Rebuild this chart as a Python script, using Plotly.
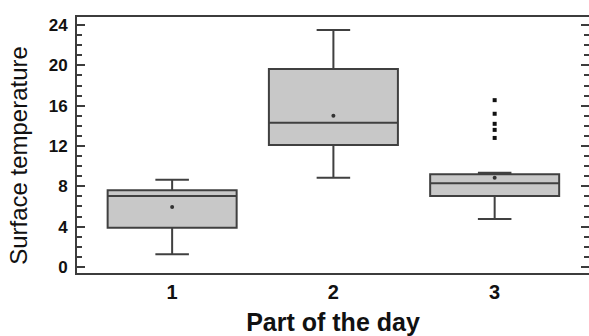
import plotly.graph_objects as go

# Box-plot summary of surface temperature for each part of the day
part_of_day = [1, 2, 3]
q1 = [3.9, 12.1, 7.05]
median = [7.05, 14.3, 8.3]
q3 = [7.6, 19.65, 9.2]
lower_whisker = [1.25, 8.85, 4.75]
upper_whisker = [8.65, 23.5, 9.35]
means = [5.95, 15.0, 8.85]
outlier_part = [3, 3, 3, 3, 3]
outlier_values = [16.55, 15.2, 14.2, 13.6, 12.8]

axis_color = "#3c3c3c"
font_family = "Liberation Sans, Arial, sans-serif"

fig = go.Figure()

fig.add_trace(go.Box(
    x=part_of_day,
    q1=q1, median=median, q3=q3,
    lowerfence=lower_whisker, upperfence=upper_whisker,
    width=0.8, whiskerwidth=0.26,
    fillcolor="#c8c8c8",
    line=dict(color="#404040", width=2),
    boxpoints=False,
    showlegend=False,
))

# group means
fig.add_trace(go.Scatter(
    x=part_of_day, y=means, mode="markers",
    marker=dict(symbol="circle", size=4, color="#333333"),
    showlegend=False, hoverinfo="skip",
))

# outlying observations
fig.add_trace(go.Scatter(
    x=outlier_part, y=outlier_values, mode="markers",
    marker=dict(symbol="square", size=4, color="#111111"),
    showlegend=False,
))

fig.update_layout(
    width=589, height=336,
    margin=dict(l=77, r=0, t=17, b=63),
    paper_bgcolor="white", plot_bgcolor="white",
    font=dict(family=font_family, color="#111111"),
)

fig.update_xaxes(
    range=[0.41, 3.585],
    tickvals=part_of_day,
    ticktext=[str(p) for p in part_of_day],
    tickfont=dict(size=20, weight="bold"),
    ticks="", showgrid=False, zeroline=False,
    showline=True, linecolor=axis_color, linewidth=2, mirror=True,
    automargin=False,
    title=dict(text="Part of the day", font=dict(size=25, weight="bold"), standoff=21),
)

fig.update_yaxes(
    range=[-0.6, 24.8],
    tickvals=[0, 4, 8, 12, 16, 20, 24],
    tickfont=dict(size=17, weight="bold"),
    ticks="inside", ticklen=8, tickwidth=1.5, tickcolor=axis_color,
    minor=dict(dtick=1, ticks="inside", ticklen=5, tickwidth=1.5, tickcolor=axis_color),
    showgrid=False, zeroline=False,
    showline=True, linecolor=axis_color, linewidth=2, mirror="ticks",
    automargin=False,
    ticklabelstandoff=4,
)

# y-axis title, placed slightly below the plot-area centre
fig.add_annotation(
    text="Surface temperature", textangle=-90,
    xref="paper", yref="paper", x=-0.1135, y=0.461,
    xanchor="center", yanchor="middle", showarrow=False,
    font=dict(family=font_family, size=24, color="#111111"),
)

fig.write_html("out.html")
